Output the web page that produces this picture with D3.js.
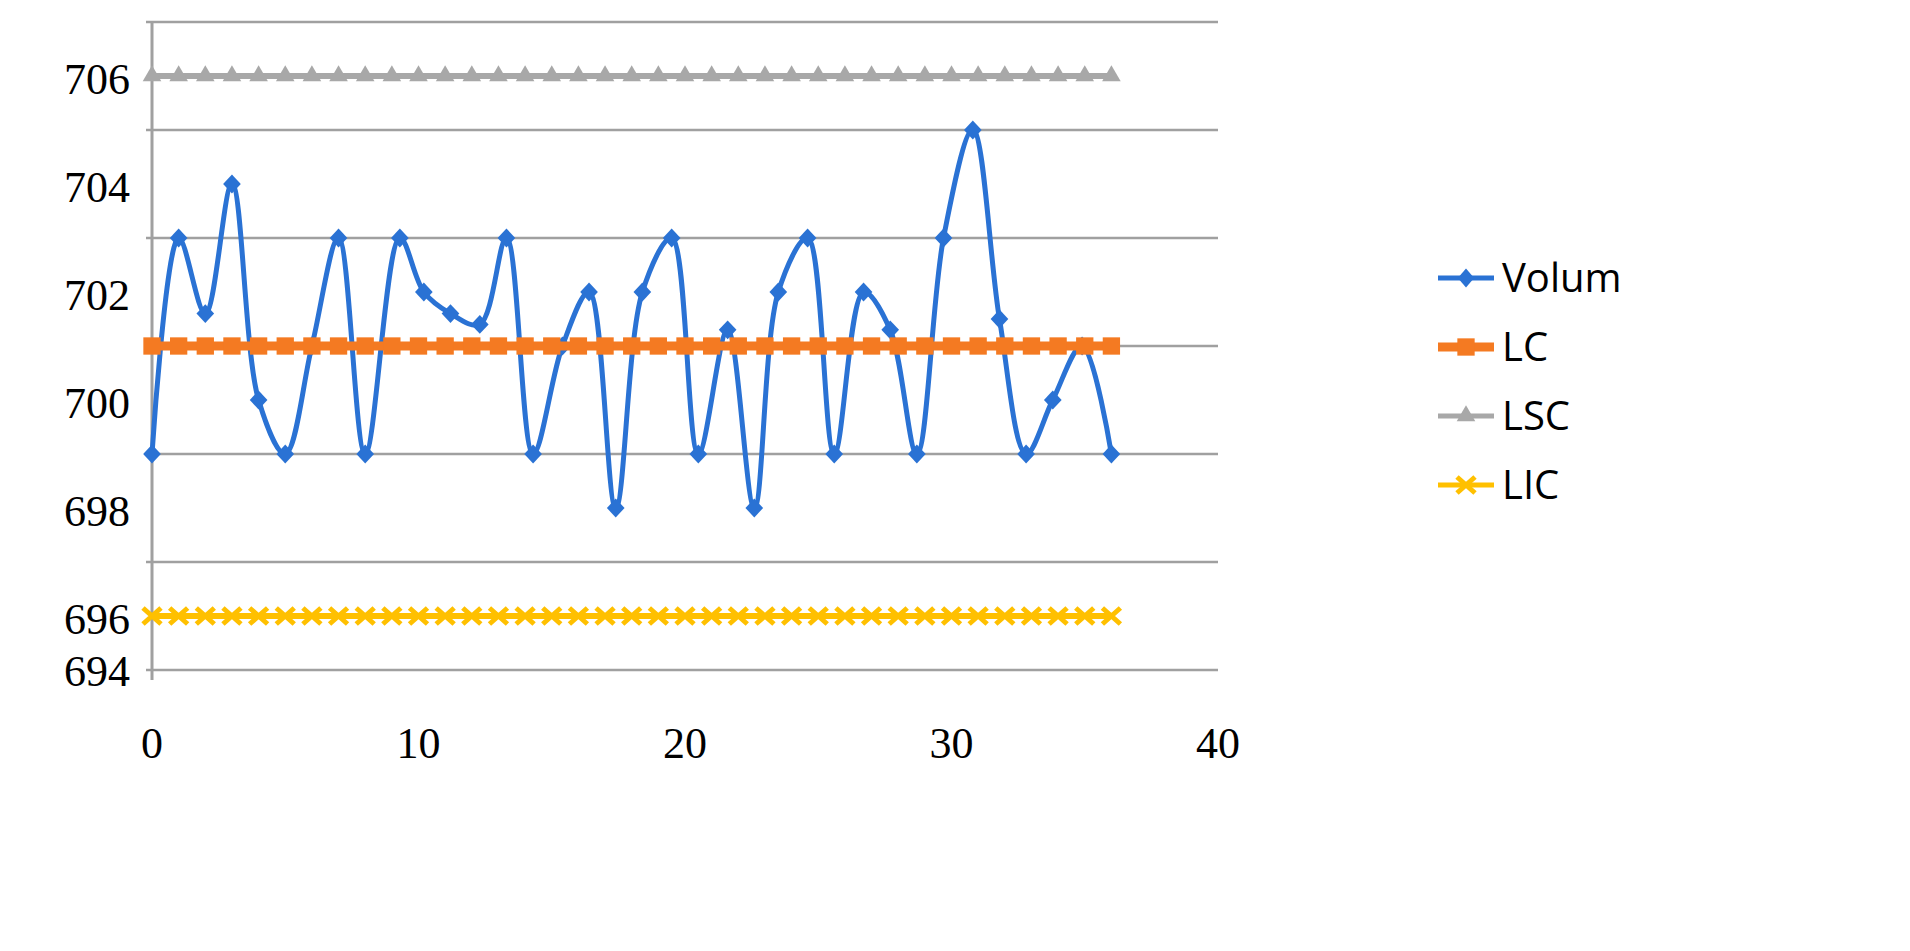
<!DOCTYPE html>
<html><head><meta charset="utf-8">
<script src="https://cdn.jsdelivr.net/npm/d3@7"></script>
<style>body{margin:0;background:#fff}</style>
</head><body>
<svg id="chart" width="1910" height="951"></svg>
<script>
// values
let volX = [0,1,2,3,4,5,6,7,8,9.3,10.2,11.2,12.3,13.3,14.3,15.4,16.4,17.4,18.4,19.5,20.5,21.6,22.6,23.5,24.6,25.6,26.7,27.7,28.7,29.7,30.8,31.8,32.8,33.8,34.9,36]
let volY = [698,702,700.6,703,699,698,700,702,698,702,701,700.6,700.4,702,698,700,701,697,701,702,698,700.3,697,701,702,698,701,700.3,698,702,704,700.5,698,699,700,698]
let limitX = d3.range(0, 37)
let lc = 700
let lsc = 705
let lic = 695
let yTicks = [694,696,698,700,702,704,706]
let xTicks = [0,10,20,30,40]
let seriesNames = ["Volum","LC","LSC","LIC"]
let seriesColors = ["#2a72d4","#f47a22","#a8a8a8","#ffc000"]

let svg = d3.select("#chart")
let pLeft = 152, pRight = 1218, pTop = 22, pBottom = 670

let x = d3.scaleLinear().domain([0, 40]).range([pLeft, pRight])
let y = d3.scaleLinear().domain([694, 706]).range([pBottom, pTop])

// gridlines
svg.append("g").selectAll("line").data(yTicks).enter().append("line")
    .attr("x1", pLeft - 6).attr("x2", pRight)
    .attr("y1", d => y(d)).attr("y2", d => y(d))
    .attr("stroke", "#a0a0a0").attr("stroke-width", 2.5)

svg.append("line").attr("x1", pLeft).attr("x2", pLeft).attr("y1", pTop).attr("y2", pBottom + 10)
    .attr("stroke", "#a0a0a0").attr("stroke-width", 3)

// y labels (shifted down like the original)
svg.append("g").selectAll("text").data(yTicks).enter().append("text")
    .attr("x", 130).attr("y", d => Math.min(y(d) + 58, 672) + 14)
    .attr("text-anchor", "end")
    .attr("font-family", "Liberation Serif").attr("font-size", 44)
    .text(d => d)

svg.append("g").selectAll("text").data(xTicks).enter().append("text")
    .attr("x", d => x(d)).attr("y", 758)
    .attr("text-anchor", "middle")
    .attr("font-family", "Liberation Serif").attr("font-size", 44)
    .text(d => d)

let line = d3.line().x(d => x(d[0])).y(d => y(d[1]))
let cross = "M-9,-8L9,8M9,-8L-9,8"

function flat(v, color, w, marker, stroked){
    let pts = limitX.map(d => [d, v])
    svg.append("path").datum(pts).attr("d", line).attr("fill", "none")
        .attr("stroke", color).attr("stroke-width", w)
    let m = svg.append("g").selectAll("path").data(pts).enter().append("path")
        .attr("transform", d => `translate(${x(d[0])},${y(d[1])})`)
        .attr("d", marker)
    if (stroked) m.attr("fill", "none").attr("stroke", color).attr("stroke-width", 5)
    else m.attr("fill", color)
}

let tri = d3.symbol().type(d3.symbolTriangle).size(150)()
let sq = d3.symbol().type(d3.symbolSquare).size(300)()
let dia = d3.symbol().type(d3.symbolDiamond).size(160)()

flat(lsc, seriesColors[2], 6, tri)
flat(lic, seriesColors[3], 6, cross, true)

let volPts = volX.map((d, i) => [d, volY[i]])
svg.append("path").datum(volPts)
    .attr("d", d3.line().x(d => x(d[0])).y(d => y(d[1])).curve(d3.curveCatmullRom.alpha(0.5)))
    .attr("fill", "none").attr("stroke", seriesColors[0]).attr("stroke-width", 5)
svg.append("g").selectAll("path").data(volPts).enter().append("path")
    .attr("transform", d => `translate(${x(d[0])},${y(d[1])}) scale(1.3,0.8)`)
    .attr("d", dia).attr("fill", seriesColors[0])

flat(lc, seriesColors[1], 9, sq)

// legend
let lg = svg.append("g")
seriesNames.forEach(function(n, i){
    let ly = 278 + i * 69
    lg.append("line").attr("x1", 1438).attr("x2", 1494).attr("y1", ly).attr("y2", ly)
        .attr("stroke", seriesColors[i]).attr("stroke-width", i === 1 ? 9 : 5)
    let m = [dia, sq, tri, null][i]
    if (m) lg.append("path").attr("d", m).attr("fill", seriesColors[i])
        .attr("transform", `translate(1466,${ly})` + (i === 0 ? " scale(1.2,0.8)" : ""))
    else lg.append("path").attr("d", cross).attr("stroke", seriesColors[i]).attr("fill", "none")
        .attr("stroke-width", 5).attr("transform", `translate(1466,${ly})`)
    lg.append("text").attr("x", 1502).attr("y", ly + 14)
        .attr("font-family", "Open Sans").attr("font-size", 40).text(n)
})
</script>
</body></html>
